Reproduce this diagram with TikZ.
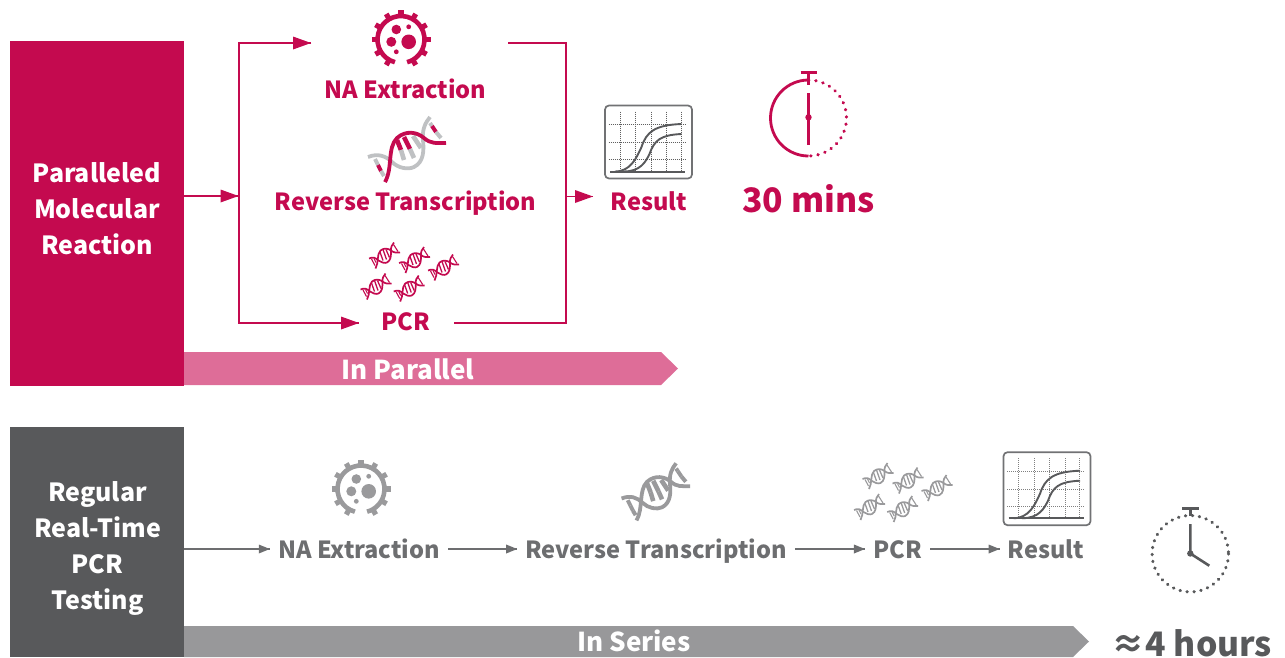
\documentclass[tikz,border=0pt]{standalone}
\usepackage{fontspec}
\setmainfont{Noto Sans CJK SC}
\definecolor{crim}{HTML}{C40A4F}
\definecolor{pinkbar}{HTML}{DE6D98}
\definecolor{darkbox}{HTML}{58595B}
\definecolor{greybar}{HTML}{98989A}
\definecolor{greytxt}{HTML}{6D6E70}
\definecolor{icongrey}{HTML}{9A9A9C}
\definecolor{lightg}{HTML}{BFC1C3}
\tikzset{
 lab/.style={font=\fontsize{23.6}{30}\selectfont\bfseries,inner sep=0pt,anchor=center,text height=17pt,text depth=5pt},
 barlab/.style={lab,text=white,font=\fontsize{26}{30}\selectfont\bfseries},
 whitelab/.style={inner sep=0pt,text=white,align=center,text width=170pt,font=\fontsize{25}{36}\selectfont\bfseries},
 crimlab/.style={lab,text=crim},
 greylab/.style={lab,text=greytxt},
 biglab/.style={inner sep=0pt,font=\fontsize{33.7}{40}\selectfont\bfseries},
 crimline/.style={draw=crim,line width=1.9pt},
 crimtip/.style={fill=crim,draw=none},
 greyline/.style={draw=greytxt,line width=1.2pt},
 pics/virus/.style={code={
   \draw[#1,line width=4.6pt] (105:23.5) arc[start angle=105,delta angle=330,radius=23.5];
   \foreach \a in {0,30,...,330}{
     \ifnum\a=90\relax\else
     \draw[#1,line width=5.2pt] (\a:24) -- (\a:29.5);\fi}
   \fill[#1] (-4.7,-10) circle(4.8);
   \fill[#1] (7.7,-12.7) circle(2.4);
   \fill[#1] (7.7,2.3) circle(7.3);
   \fill[#1] (-9.7,2.3) circle(5);
   \fill[#1] (-4.7,12.3) circle(2.4);
 }},
 pics/chart/.style={code={
   \draw[darkbox!85!white,line width=1.7pt,rounded corners=4pt,fill=white] (-43.5,-36.5) rectangle (43.5,36.5);
   \foreach \x in {-28.5,-12.8,2.5,18.2,32.5}{\draw[#1,line width=1pt,dash pattern=on 1pt off 1pt] (\x,-30.5) -- (\x,29);}
   \foreach \y in {-17.5,0.3,17.3}{\draw[#1,line width=1pt,dash pattern=on 1pt off 1pt] (-40,\y) -- (36.5,\y);}
   \draw[darkbox,line width=2pt] (-38.5,29.5) -- (36.5,29.5);
   \draw[darkbox,line width=1.9pt] (-33.5,29.5) .. controls (-18,29.5) and (-12,16) .. (-7,5) .. controls (-2,-10) and (6,-17) .. (33,-18);
   \draw[darkbox,line width=1.9pt] (-25,29.5) .. controls (-8,29.5) and (-3,20) .. (1,12) .. controls (6,-2) and (12,-7) .. (33,-8);
 }},
 pics/dna/.style n args={2}{code={
   % light strand
   \draw[#2,line width=3.8pt] (-38,7) .. controls (-28,3) and (-20,6) .. (-14,12) .. controls (-8,18) and (2,20) .. (8,17) .. controls (18,12) and (18,0) .. (17,-10) .. controls (16,-20) and (19,-27) .. (24,-33);
   % rungs
   \draw[#2,line width=4pt] (-31,9) -- (-28,15);
   \draw[#1,line width=4pt] (-28,15) -- (-25,21);
   \draw[#2,line width=4pt] (-25,21) -- (-22,26);
   \draw[#1,line width=4.6pt] (-9,-10) -- (-5,0);
   \draw[#2,line width=4.6pt] (-5,0) -- (-2,10);
   \draw[#1,line width=4.6pt] (-2,-13) -- (4,-1);
   \draw[#2,line width=4.6pt] (4,-1) -- (8,8);
   \draw[#2,line width=4.6pt] (7,-14) -- (15,-2);
   \draw[#2,line width=4pt] (24,-27) -- (26,-24);
   \draw[#1,line width=4pt] (26,-24) -- (30,-18);
   \draw[#2,line width=4pt] (30,-18) -- (35,-12);
   % main strand
   \draw[#1,line width=3.8pt] (-21,32) .. controls (-13,18) and (-19,-2) .. (-9,-12) .. controls (0,-20) and (11,-18) .. (18,-12) .. controls (25,-6) and (30,-7) .. (40,-7);
 }},
 pics/dnamini/.style={code={
   \draw[#1,line width=1.7pt] (-15,3) .. controls (-11,1) and (-8,2.5) .. (-5.6,5) .. controls (-3,7) and (1,8) .. (3,7) .. controls (7,5) and (7,0) .. (7,-4) .. controls (6.5,-8) and (8,-11) .. (10,-13);
   \draw[#1,line width=1.7pt] (-8.5,13) .. controls (-5,7) and (-7.5,-1) .. (-3.5,-5) .. controls (0,-8) and (4.5,-7) .. (7,-5) .. controls (10,-2.5) and (12,-3) .. (16,-3);
   \draw[#1,line width=1.1pt] (-12.5,3.5) -- (-9,10);
   \draw[#1,line width=1.1pt] (-10,3) -- (-8,7);
   \draw[#1,line width=1.3pt] (-4,-3.5) -- (-1,5);
   \draw[#1,line width=1.3pt] (-1,-6) -- (2.5,4);
   \draw[#1,line width=1.3pt] (2,-6) -- (5.5,2);
   \draw[#1,line width=1.1pt] (9.5,-11) -- (14,-4);
 }},
 pics/minigroup/.style={code={
   \path (0,0) pic{dnamini=#1} (30,4.5) pic{dnamini=#1} (59,12) pic{dnamini=#1}
         (-8.5,31) pic{dnamini=#1} (24.7,33) pic{dnamini=#1};
 }},
}
\begin{document}
\begin{tikzpicture}[x=1pt,y=-1pt]
\useasboundingbox (0,0) rectangle (1285,657);
% top
\node[fill=crim,minimum width=174pt,minimum height=345pt,inner sep=0pt,anchor=north west] (topbox) at (10,41) {};
\node[whitelab] (toplab) at (97,209) {Paralleled\\Molecular\\Reaction};
\fill[pinkbar] (184,352) -- (661,352) -- (678,368.5) -- (661,385) -- (184,385) -- cycle;
\node[barlab] (inpar) at (408,373) {In Parallel};
\pic at (401,39.5) {virus={crim}};
\node[crimlab] (na) at (405.5,92) {NA Extraction};
\pic at (406,150) {dna={crim}{lightg}};
\node[crimlab] (rt) at (405.5,204) {Reverse Transcription};
\pic at (384,255.5) {minigroup=crim};
\node[crimlab] (pcr) at (405.5,324) {PCR};
\node[crimlab] (res) at (649,204) {Result};
\pic at (648.5,142) {chart={gray!75!black}};
% connectors
\coordinate (j) at (238.5,196);
\coordinate (tl) at (239,43);
\coordinate (bl) at (239,323);
\coordinate (tr) at (566,43);
\coordinate (br) at (566,323);
\coordinate (m) at (566,196.5);
\coordinate (topend) at (508,43);
\coordinate (pcrend) at (454,323);
\coordinate (topin) at (311,43);
\coordinate (botin) at (359,323);
\coordinate (resin) at (593,196.5);
\draw[crim,line width=1.1pt] (topbox.east|-j) -- (j);
\fill[crimtip] (j) -- ++(-18,-6.5) -- ++(0,13) -- cycle;
\draw[crimline] (topin) -- (tl) -- (bl) -- (botin);
\fill[crimtip] (topin) -- ++(-18,-6.5) -- ++(0,13) -- cycle;
\fill[crimtip] (botin) -- ++(-18,-6.5) -- ++(0,13) -- cycle;
\draw[crimline] (topend) -- (tr) -- (br) -- (pcrend);
\draw[crim,line width=1.1pt] (m) -- (resin);
\fill[crimtip] (resin) -- ++(-18,-6.5) -- ++(0,13) -- cycle;
% clock 1
\draw[crim,line width=2.8pt] (808.5,80) arc[start angle=-90,delta angle=-180,radius=38];
\draw[crim,line width=3.2pt,line cap=round,dash pattern=on 0.4pt off 6.9pt] (808.5,80) arc[start angle=-90,delta angle=180,radius=38];
\draw[crim,line width=2.6pt] (800.5,72.3) -- (816.7,72.3);
\draw[crim,line width=2.6pt] (808.5,72.3) -- (808.5,85);
\draw[crim,line width=2.6pt] (808.5,93) -- (808.5,145);
\fill[crim] (808.5,117.3) circle(3.2);
\node[biglab,text=crim] (mins) at (808.5,199) {30 mins};
% bottom
\node[fill=darkbox,minimum width=174pt,minimum height=230pt,inner sep=0pt,anchor=north west] (botbox) at (10,427) {};
\node[whitelab] (botlab) at (97.5,548) {Regular\\Real-Time\\PCR\\Testing};
\fill[greybar] (184,626) -- (1073,626) -- (1089,641.5) -- (1073,657) -- (184,657) -- cycle;
\node[barlab] (inser) at (634,645) {In Series};
\node[greylab] (na2) at (359,552) {NA Extraction};
\node[greylab] (rt2) at (656,552) {Reverse Transcription};
\node[greylab] (pcr2) at (897.5,552) {PCR};
\node[greylab] (res2) at (1046,552) {Result};
\coordinate (gy) at (0,549);
\pic at (361,489) {virus={icongrey}};
\pic[scale=.88] at (655,492.3) {dna={icongrey}{icongrey}};
\pic at (877.5,476) {minigroup=icongrey};
\pic at (1047,488.7) {chart=gray};
\foreach \p/\q/\s in {botbox.east/na2.west/0,na2.east/rt2.west/8,rt2.east/pcr2.west/8,pcr2.east/res2.west/8}{
  \draw[greyline] ([xshift=\s pt]\p|-gy) -- ([xshift=-8pt]\q|-gy);
  \fill[greytxt] ([xshift=-8pt]\q|-gy) -- ++(-11,-4.5) -- ++(0,9) -- cycle;
}
% clock 2
\draw[darkbox,line width=3.2pt,line cap=round,dash pattern=on 0.4pt off 6.6pt] (1190.3,553.7) circle(38.2);
\draw[darkbox,line width=2.4pt] (1182,508.5) -- (1199,508.5);
\draw[darkbox,line width=2.4pt] (1190.3,508.5) -- (1190.3,516);
\draw[darkbox,line width=2.6pt] (1190.3,524) -- (1190.3,553.5) -- (1209.3,565.7);
\fill[darkbox] (1190.3,553.5) circle(3.2);
\node[biglab,text=darkbox,text height=26pt,text depth=0pt] (hrs) at (1192,643) {≈4 hours};
\end{tikzpicture}
\end{document}
